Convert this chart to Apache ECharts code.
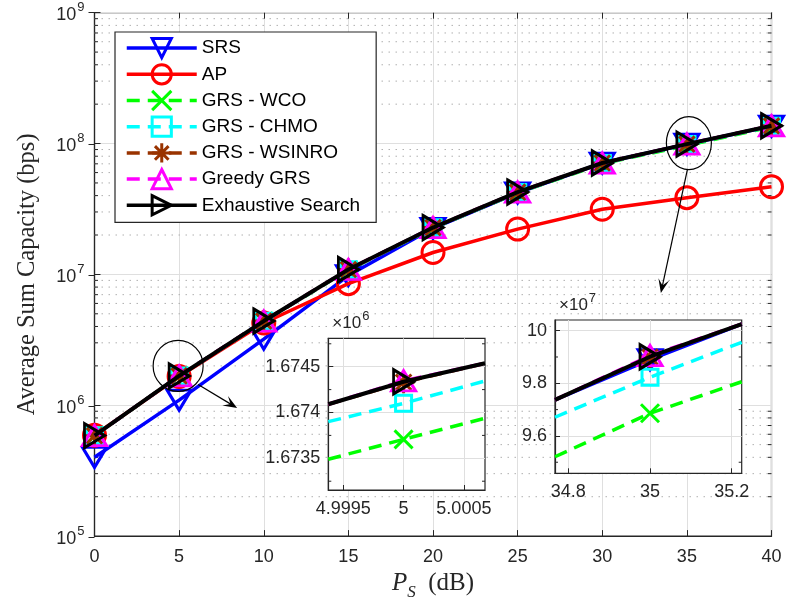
<!DOCTYPE html>
<html><head><meta charset="utf-8">
<script src="https://cdn.jsdelivr.net/npm/echarts@6/dist/echarts.min.js"></script>
<style>html,body{margin:0;padding:0;background:#fff}#c{width:788px;height:606px}</style>
</head><body><div id="c"></div>
<script>
// ---------- data ----------
const xValues = [0, 5, 10, 15, 20, 25, 30, 35, 40];
const seriesNames = ['SRS', 'AP', 'GRS - WCO', 'GRS - CHMO', 'GRS - WSINRO', 'Greedy GRS', 'Exhaustive Search'];
const srsValues        = [4.0e5, 1.094e6, 3.2e6, 9.8e6, 2.25e7, 4.2e7, 7.1e7, 9.89e7, 1.36e8];
const apValues         = [5.9e5, 1.66e6, 4.25e6, 8.5e6, 1.47e7, 2.22e7, 3.15e7, 3.86e7, 4.68e7];
const wcoValues        = [5.84e5, 1.673707e6, 4.38e6, 1.08e7, 2.26e7, 4.2e7, 7.0e7, 9.686e7, 1.34e8];
const chmoValues       = [5.85e5, 1.674100e6, 4.39e6, 1.085e7, 2.27e7, 4.23e7, 7.05e7, 9.823e7, 1.355e8];
const wsinroValues     = [5.85e5, 1.674330e6, 4.4e6, 1.09e7, 2.28e7, 4.25e7, 7.1e7, 9.90e7, 1.365e8];
const greedyValues     = [5.86e5, 1.674340e6, 4.4e6, 1.09e7, 2.28e7, 4.25e7, 7.1e7, 9.905e7, 1.365e8];
const exhaustiveValues = [5.86e5, 1.674336e6, 4.4e6, 1.09e7, 2.28e7, 4.26e7, 7.1e7, 9.901e7, 1.366e8];

const xTickValues = [0, 5, 10, 15, 20, 25, 30, 35, 40];
const yDecadeExponents = [5, 6, 7, 8, 9];
const yMinorFactors = [2, 3, 4, 5, 6, 7, 8, 9];

// inset 1 (around P_S = 5 dB)
const inset1XRange = [4.999376, 5.000675];
const inset1YRange = [1.673154e6, 1.674810e6];
const inset1XTicks = [4.9995, 5, 5.0005];
const inset1YTicks = [1.6735e6, 1.674e6, 1.6745e6];
const inset1YMinorTicks = [1.67325e6, 1.67375e6, 1.67425e6, 1.67475e6];
const inset1X          = [4.999376, 5, 5.000675];
const inset1Wco        = [1.673489e6, 1.673707e6, 1.673937e6];
const inset1Chmo       = [1.673900e6, 1.674100e6, 1.674344e6];
const inset1Wsinro     = [1.674090e6, 1.674330e6, 1.674537e6];
const inset1Greedy     = [1.674090e6, 1.674345e6, 1.674537e6];
const inset1Exhaustive = [1.674090e6, 1.674336e6, 1.674537e6];

// inset 2 (around P_S = 35 dB)
const inset2XRange = [34.7674, 35.2245];
const inset2YRange = [9.458e7, 10.0406e7];
const inset2XTicks = [34.8, 35, 35.2];
const inset2YTicks = [9.6e7, 9.8e7, 10e7];
const inset2YMinorTicks = [9.5e7, 9.7e7, 9.9e7];
const inset2X          = [34.7674, 35, 35.2245];
const inset2Srs        = [9.737e7, 9.89e7, 10.025e7];
const inset2Wco        = [9.521e7, 9.686e7, 9.806e7];
const inset2Chmo       = [9.671e7, 9.823e7, 9.956e7];
const inset2Wsinro     = [9.737e7, 9.90e7, 10.025e7];
const inset2Greedy     = [9.737e7, 9.905e7, 10.025e7];
const inset2Exhaustive = [9.737e7, 9.901e7, 10.025e7];

// ---------- styles ----------
const FONT = '"Liberation Sans", Arial, Helvetica, sans-serif';
const SERIF = '"Liberation Serif", "DejaVu Serif", serif';
const AX = '#262626';
const GRID = '#dfdfdf';
const DASH = [13, 8];
const styles = [
  {color: '#0000ff', symbol: 'path://M0,0 L24,0 L12,19 Z', size: [24, 20], type: 'solid'},
  {color: '#ff0000', symbol: 'circle', size: 22, type: 'solid'},
  {color: '#00ff00', symbol: 'path://M0,0 L10,10 M10,0 L0,10', size: 18, type: DASH},
  {color: '#00ffff', symbol: 'rect', size: 16, type: DASH},
  {color: '#993300', symbol: 'path://M5,0 L5,10 M0,5 L10,5 M1.46,1.46 L8.54,8.54 M8.54,1.46 L1.46,8.54', size: 22, type: DASH},
  {color: '#ff00ff', symbol: 'path://M12,0 L24,19 L0,19 Z', size: [24, 20], type: DASH},
  {color: '#000000', symbol: 'path://M0,0 L19,12 L0,24 Z', size: [20, 24], type: 'solid'}
];
const mainData = [srsValues, apValues, wcoValues, chmoValues, wsinroValues, greedyValues, exhaustiveValues];
const inset1Data = {2: inset1Wco, 3: inset1Chmo, 4: inset1Wsinro, 5: inset1Greedy, 6: inset1Exhaustive};
const inset2Data = {0: inset2Srs, 2: inset2Wco, 3: inset2Chmo, 4: inset2Wsinro, 5: inset2Greedy, 6: inset2Exhaustive};

function makeSeries(i, data, axisIdx, zBase) {
  const s = styles[i];
  return {
    type: 'line', name: seriesNames[i], xAxisIndex: axisIdx, yAxisIndex: axisIdx,
    data: data, symbol: s.symbol, symbolSize: s.size, showAllSymbol: true,
    lineStyle: {color: s.color, width: i === 6 ? 4 : 3.5, type: s.type},
    itemStyle: {color: 'transparent', borderColor: s.color, borderWidth: 3},
    emphasis: {disabled: true}, z: zBase + i, clip: true, silent: true
  };
}
const series = [];
mainData.forEach((vals, i) => series.push(makeSeries(i, xValues.map((x, k) => [x, vals[k]]), 0, 2)));
Object.keys(inset1Data).forEach(k => {
  const vals = inset1Data[k];
  series.push(makeSeries(+k, inset1X.map((x, j) => j === 1 ? [x, vals[j]] : {value: [x, vals[j]], symbol: 'none'}), 2, 12));
});
Object.keys(inset2Data).forEach(k => {
  const vals = inset2Data[k];
  series.push(makeSeries(+k, inset2X.map((x, j) => j === 1 ? [x, vals[j]] : {value: [x, vals[j]], symbol: 'none'}), 3, 12));
});

const tickLabel = {color: AX, fontSize: 18, fontFamily: FONT};
function trimNum(v, d) { return String(parseFloat(v.toFixed(d))); }

function insetX(gridIndex, range, ticks, dec) {
  return {gridIndex, type: 'value', min: range[0], max: range[1], z: 11,
    axisLine: {show: true, lineStyle: {color: AX, width: 1.2}},
    axisTick: {show: true, inside: true, length: 5, customValues: ticks, lineStyle: {color: AX}},
    axisLabel: Object.assign({show: true, customValues: ticks, margin: 10, formatter: v => trimNum(v, dec)}, tickLabel),
    splitLine: {show: true, lineStyle: {color: GRID, width: 1}}};
}
function insetY(gridIndex, range, ticks, scale, dec, exp) {
  return {gridIndex, type: 'value', min: range[0], max: range[1], z: 11,
    axisLine: {show: true, lineStyle: {color: AX, width: 1.2}},
    axisTick: {show: true, inside: true, length: 5, customValues: ticks, lineStyle: {color: AX}},
    axisLabel: Object.assign({show: true, customValues: ticks, margin: 8, formatter: v => trimNum(v / scale, dec)}, tickLabel),
    splitLine: {show: true, lineStyle: {color: GRID, width: 1}},
    name: '{a|\u00d710}{b|' + exp + '}', nameLocation: 'end', nameGap: 6,
    nameTextStyle: {align: 'left', padding: [0, 0, 0, 4], rich: {
      a: {fontSize: 17, fontFamily: FONT, color: AX, verticalAlign: 'bottom'},
      b: {fontSize: 13, fontFamily: FONT, color: AX, verticalAlign: 'bottom', padding: [0, 0, 9, 1]}}}};
}

const option = {
  animation: false,
  backgroundColor: '#fff',
  grid: [
    {left: 94.5, top: 12.7, right: 16.5, bottom: 68.7, show: true, borderColor: AX, borderWidth: 1.2, backgroundColor: 'transparent', z: 0},
    {left: 94.5, top: 12.7, right: 16.5, bottom: 68.7, show: false},
    {left: 328.3, top: 338.3, width: 156.7, height: 151.7, show: true, backgroundColor: '#fff', borderColor: AX, borderWidth: 1.2, z: 10},
    {left: 555, top: 320, width: 186.7, height: 153.3, show: true, backgroundColor: '#fff', borderColor: AX, borderWidth: 1.2, z: 10}
  ],
  legend: {
    left: 115, top: 32, orient: 'vertical', data: seriesNames,
    backgroundColor: '#fff', borderColor: AX, borderWidth: 1.2, padding: [5, 16, 6, 10],
    itemWidth: 70, itemHeight: 24, itemGap: 4, selectedMode: false,
    lineStyle: {width: 3.5},
    itemStyle: {borderWidth: 3},
    textStyle: {fontSize: 19, fontFamily: FONT, color: '#000'}, z: 20
  },
  xAxis: [
    {gridIndex: 0, type: 'value', min: 0, max: 40, interval: 5,
      axisLine: {show: true, lineStyle: {color: AX, width: 1.2}},
      axisTick: {show: true, inside: true, length: 6, lineStyle: {color: AX}},
      axisLabel: Object.assign({margin: 12}, tickLabel),
      splitLine: {show: true, lineStyle: {color: GRID, width: 1}},
      name: '{i|P}{s|S}{r|  (dB)}', nameLocation: 'middle', nameGap: 34,
      nameTextStyle: {rich: {
        i: {fontFamily: SERIF, fontStyle: 'italic', fontSize: 25, color: AX, verticalAlign: 'bottom', padding: [0, 0, 5, 0]},
        s: {fontFamily: SERIF, fontStyle: 'italic', fontSize: 17, color: AX, verticalAlign: 'bottom'},
        r: {fontFamily: SERIF, fontSize: 25, color: AX, verticalAlign: 'bottom', padding: [0, 0, 5, 0]}}}},
    {gridIndex: 1, type: 'value', min: 0, max: 40, interval: 5, position: 'top',
      axisLine: {show: false}, axisTick: {show: true, inside: true, length: 6, lineStyle: {color: AX}},
      axisLabel: {show: false}, splitLine: {show: false}},
    insetX(2, inset1XRange, inset1XTicks, 4),
    insetX(3, inset2XRange, inset2XTicks, 1)
  ],
  yAxis: [
    {gridIndex: 0, type: 'log', logBase: 10, min: 1e5, max: 1e9, splitNumber: 4,
      axisLine: {show: true, lineStyle: {color: AX, width: 1.2}},
      axisTick: {show: true, inside: true, length: 6, lineStyle: {color: AX}},
      axisLabel: {margin: 10, formatter: v => '{b|10}{s|' + Math.round(Math.log10(v)) + '}',
        rich: {b: {fontSize: 18, fontFamily: FONT, color: AX, verticalAlign: 'bottom'},
               s: {fontSize: 13, fontFamily: FONT, color: AX, verticalAlign: 'bottom', padding: [0, 0, 10, 1]}}},
      splitLine: {show: true, lineStyle: {color: GRID, width: 1}},
      name: 'Average Sum Capacity (bps)', nameLocation: 'middle', nameGap: 54,
      nameTextStyle: {fontFamily: SERIF, fontSize: 24.5, color: AX}},
    {gridIndex: 1, type: 'log', logBase: 10, min: 1e5, max: 1e9, splitNumber: 4, position: 'right',
      axisLine: {show: false}, axisTick: {show: true, inside: true, length: 6, lineStyle: {color: AX}},
      axisLabel: {show: false}, splitLine: {show: false}},
    insetY(2, inset1YRange, inset1YTicks, 1e6, 4, 6),
    insetY(3, inset2YRange, inset2YTicks, 1e7, 1, 7)
  ],
  series: series
};

const chart = echarts.init(document.getElementById('c'));
chart.setOption(option);

// ---------- minor log grid, inset minor ticks, annotations ----------
const g = [];
const gridRect = {x0: 94.5, x1: 771.5};
yDecadeExponents.slice(0, -1).forEach(e => {
  yMinorFactors.forEach(f => {
    const y = chart.convertToPixel({yAxisIndex: 0}, f * Math.pow(10, e));
    g.push({type: 'line', z: 1, silent: true, shape: {x1: gridRect.x0, y1: y, x2: gridRect.x1, y2: y},
      style: {stroke: '#b0b0b0', lineWidth: 1, lineDash: [1.5, 5.5]}});
    g.push({type: 'line', z: 1, silent: true, shape: {x1: gridRect.x0, y1: y, x2: gridRect.x0 + 3.5, y2: y},
      style: {stroke: AX, lineWidth: 1}});
    g.push({type: 'line', z: 1, silent: true, shape: {x1: gridRect.x1 - 3.5, y1: y, x2: gridRect.x1, y2: y},
      style: {stroke: AX, lineWidth: 1}});
  });
});
function insetMinor(axisIdx, vals) {
  const r = chart.getModel().getComponent('grid', axisIdx).coordinateSystem.getRect();
  vals.forEach(v => {
    const y = chart.convertToPixel({yAxisIndex: axisIdx}, v);
    g.push({type: 'line', z: 30, silent: true, shape: {x1: r.x, y1: y, x2: r.x + 3, y2: y}, style: {stroke: AX, lineWidth: 1}});
    g.push({type: 'line', z: 30, silent: true, shape: {x1: r.x + r.width - 3, y1: y, x2: r.x + r.width, y2: y}, style: {stroke: AX, lineWidth: 1}});
  });
}
insetMinor(2, inset1YMinorTicks);
insetMinor(3, inset2YMinorTicks);
function arrow(p0, p1) {
  const dx = p1[0] - p0[0], dy = p1[1] - p0[1], L = Math.hypot(dx, dy);
  const ux = dx / L, uy = dy / L, nx = -uy, ny = ux, hl = 14, hw = 5.5;
  g.push({type: 'line', z: 50, silent: true, shape: {x1: p0[0], y1: p0[1], x2: p1[0] - ux * 6, y2: p1[1] - uy * 6},
    style: {stroke: '#000', lineWidth: 1.2}});
  g.push({type: 'polygon', z: 50, silent: true, shape: {points: [
    [p1[0], p1[1]],
    [p1[0] - ux * hl + nx * hw, p1[1] - uy * hl + ny * hw],
    [p1[0] - ux * hl * 0.55, p1[1] - uy * hl * 0.55],
    [p1[0] - ux * hl - nx * hw, p1[1] - uy * hl - ny * hw]]}, style: {fill: '#000'}});
}
const m5 = chart.convertToPixel({gridIndex: 0}, [xValues[1], exhaustiveValues[1]]);
const m35 = chart.convertToPixel({gridIndex: 0}, [xValues[7], exhaustiveValues[7]]);
g.push({type: 'ellipse', z: 50, silent: true, shape: {cx: m5[0] - 1, cy: m5[1] - 10, rx: 25, ry: 25.5},
  style: {fill: 'none', stroke: '#000', lineWidth: 1.2}});
g.push({type: 'ellipse', z: 50, silent: true, shape: {cx: m35[0] + 2, cy: m35[1] - 1, rx: 22.5, ry: 26.5},
  style: {fill: 'none', stroke: '#000', lineWidth: 1.2}});
arrow([m5[0] + 19, m5[1] + 8.5], [m5[0] + 58, m5[1] + 32]);
arrow([m35[0] + 0.5, m35[1] + 25.5], [m35[0] - 26, m35[1] + 149]);
chart.setOption({graphic: g});
</script>
</body></html>
